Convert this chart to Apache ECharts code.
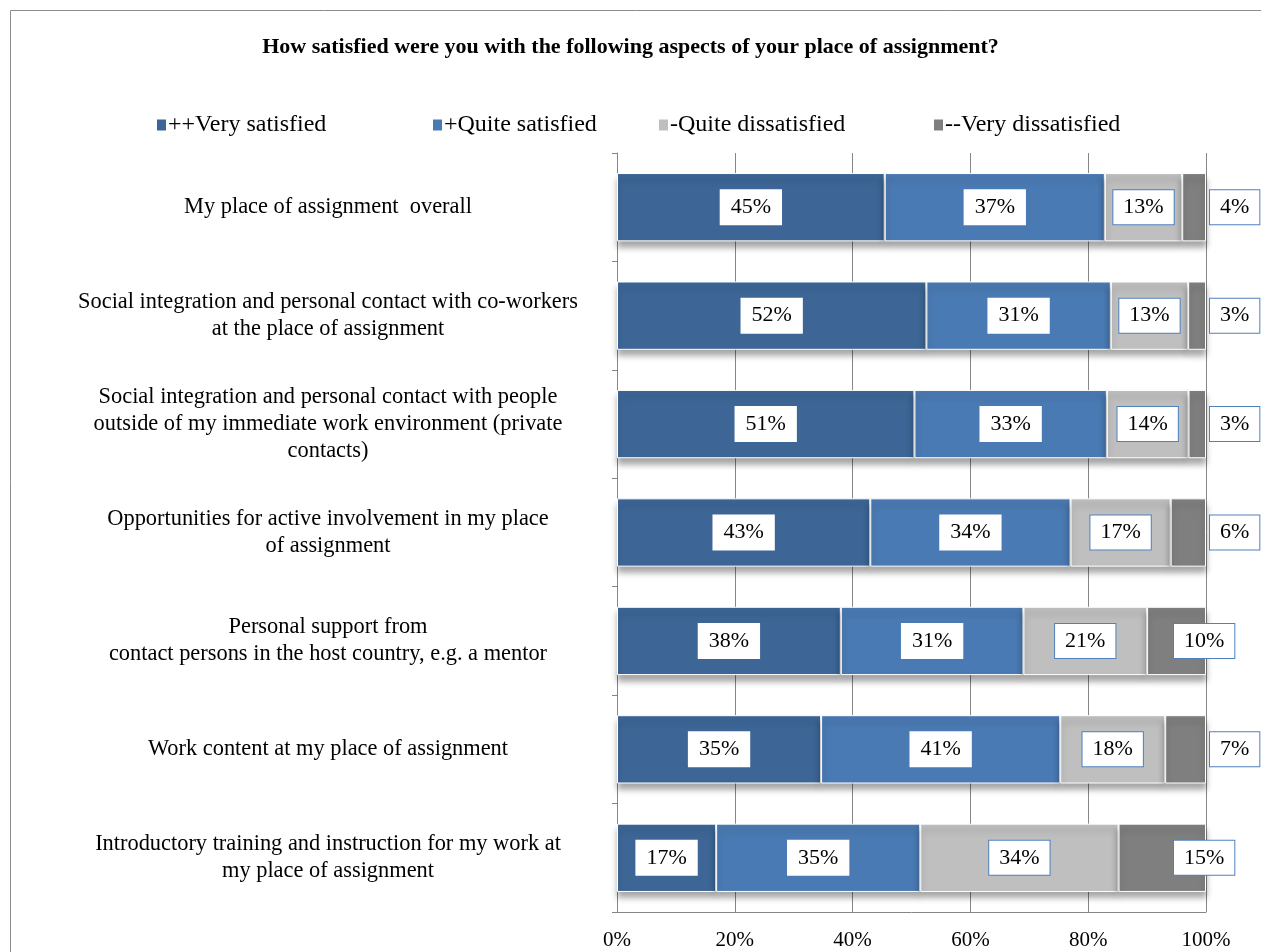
<!DOCTYPE html>
<html><head><meta charset="utf-8">
<script src="https://cdn.jsdelivr.net/npm/echarts@6/dist/echarts.min.js"></script>
<style>html,body{margin:0;padding:0;background:#fff}#c{width:1261px;height:952px}</style>
</head><body><div id="c"></div>
<script>
const categories = [
  "My place of assignment  overall",
  "Social integration and personal contact with co-workers\nat the place of assignment",
  "Social integration and personal contact with people\noutside of my immediate work environment (private\ncontacts)",
  "Opportunities for active involvement in my place\nof assignment",
  "Personal support from\ncontact persons in the host country, e.g. a mentor",
  "Work content at my place of assignment",
  "Introductory training and instruction for my work at\nmy place of assignment"
];
const seriesNames = ["++Very satisfied", "+Quite satisfied", "-Quite dissatisfied", "--Very dissatisfied"];
const verySatisfied = [45, 52, 51, 43, 38, 35, 17];
const quiteSatisfied = [37, 31, 33, 34, 31, 41, 35];
const quiteDissatisfied = [13, 13, 14, 17, 21, 18, 34];
const veryDissatisfied = [4, 3, 3, 6, 10, 7, 15];
const xTicks = [0, 20, 40, 60, 80, 100];

const colors = ['#3d6696', '#4a7ab3', '#bfbfbf', '#7f7f7f'];
const allVals = [verySatisfied, quiteSatisfied, quiteDissatisfied, veryDissatisfied];
const totals = categories.map((_, i) => allVals.reduce((s, a) => s + a[i], 0));
const serif = 'Liberation Serif';
const legendLefts = [150, 426, 652, 927];

const series = allVals.map((vals, si) => ({
  name: seriesNames[si],
  type: 'bar',
  stack: 'all',
  barWidth: '63%',
  itemStyle: {
    color: colors[si], borderColor: '#fff', borderWidth: 1,
    shadowColor: 'rgba(0,0,0,0.35)', shadowBlur: 6, shadowOffsetY: 6
  },
  data: vals.map((v, i) => {
    const d = { value: v * 100 / totals[i] };
    if (si === 3) {
      d.label = v >= 10 ? { position: 'right', distance: 0, offset: [-32, 0] }
                        : { position: 'right', distance: 4 };
    }
    return d;
  }),
  label: {
    show: true,
    position: 'inside',
    formatter: p => vals[p.dataIndex] + '%',
    fontFamily: serif, fontSize: 22, color: '#000',
    backgroundColor: '#fff',
    borderColor: si < 2 ? '#fff' : '#4f81bd', borderWidth: 1,
    padding: [6, 10, 6, 10]
  }
}));

const chart = echarts.init(document.getElementById('c'));
chart.setOption({
  animation: false,
  backgroundColor: '#fff',
  title: {
    text: 'How satisfied were you with the following aspects of your place of assignment?',
    left: 'center', top: 31,
    textStyle: { fontFamily: serif, fontSize: 22, fontWeight: 'bold', color: '#000' }
  },
  legend: seriesNames.map((n, i) => ({
    top: 108, left: legendLefts[i], itemWidth: 11, itemHeight: 13,
    icon: 'rect',
    textStyle: { fontFamily: serif, fontSize: 24, color: '#000', padding: [0, 0, 0, -4] },
    data: [n]
  })),
  graphic: [{
    type: 'rect', shape: { x: 10.5, y: 10.5, width: 1260, height: 960 },
    style: { fill: 'none', stroke: '#8c8c8c', lineWidth: 1 }, silent: true
  }],
  grid: { left: 617, right: 55, top: 153, bottom: 40 },
  xAxis: {
    type: 'value', min: 0, max: 100, interval: 20,
    axisLine: { show: true, lineStyle: { color: '#868686' } },
    axisTick: { show: false },
    splitLine: { show: true, lineStyle: { color: '#868686' } },
    axisLabel: { formatter: v => xTicks.includes(v) ? v + '%' : '', fontFamily: serif, fontSize: 21, color: '#000', margin: 18 }
  },
  yAxis: {
    type: 'category', inverse: true, data: categories,
    axisLine: { show: true, lineStyle: { color: '#868686' } },
    axisTick: { show: true, length: 5, lineStyle: { color: '#868686' } },
    axisLabel: { fontFamily: serif, fontSize: 22.4, color: '#000', align: 'center', margin: 289, lineHeight: 27 }
  },
  series: series
});
</script>
</body></html>
